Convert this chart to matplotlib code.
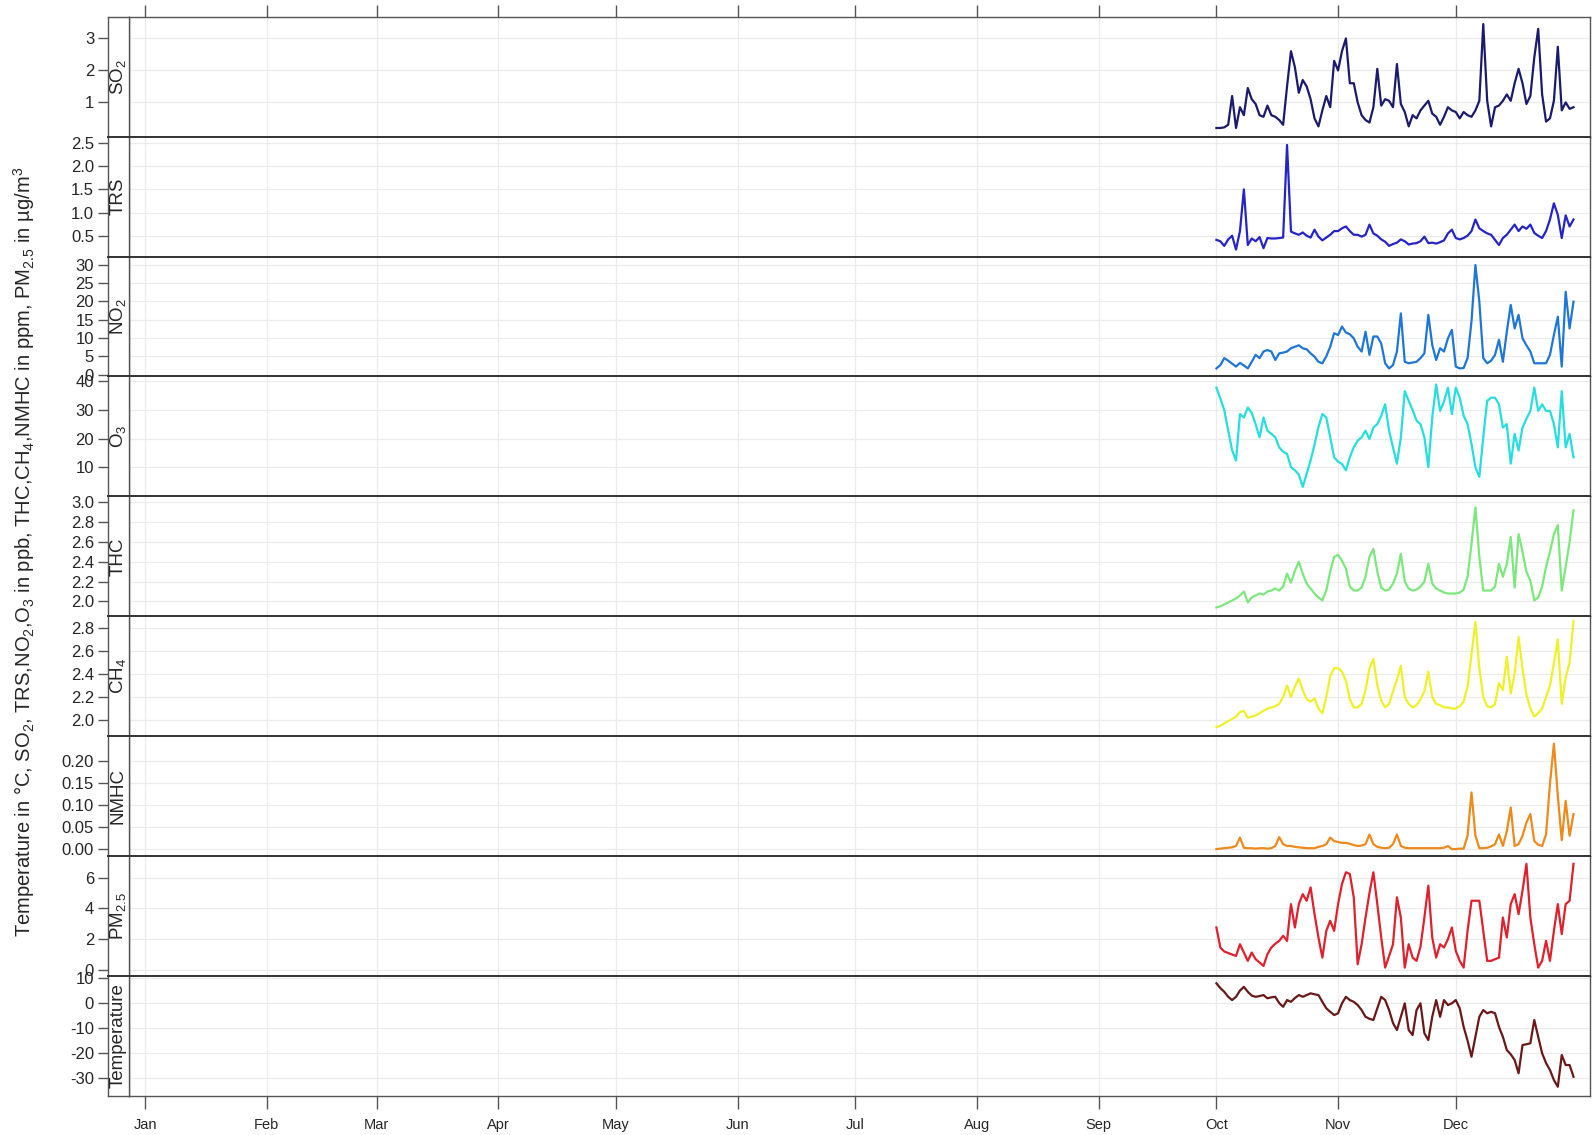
import numpy as np
import pandas as pd
import matplotlib
matplotlib.use('Agg')
import matplotlib.pyplot as plt
import matplotlib.dates as mdates
from matplotlib.ticker import FormatStrFormatter

plt.rcParams['font.family'] = ['Liberation Sans', 'DejaVu Sans']
plt.rcParams['mathtext.fontset'] = 'custom'
plt.rcParams['mathtext.rm'] = 'Liberation Sans'
plt.rcParams['mathtext.it'] = 'Liberation Sans:italic'
plt.rcParams['mathtext.bf'] = 'Liberation Sans:bold'

# daily means, 1 Oct - 31 Dec
start = '2014-10-01'

so2 = [0.2, 0.2, 0.22, 0.3, 1.2, 0.2, 0.85, 0.6, 1.45, 1.1,
       0.95, 0.6, 0.55, 0.9, 0.6, 0.55, 0.45, 0.3, 1.5, 2.6,
       2.1, 1.3, 1.7, 1.5, 1.1, 0.5, 0.25, 0.75, 1.2, 0.85,
       2.3, 2.0, 2.6, 3.0, 1.6, 1.6, 1.0, 0.6, 0.45, 0.37,
       0.85, 2.05, 0.9, 1.1, 1.05, 0.85, 2.2, 0.95, 0.7, 0.25,
       0.6, 0.5, 0.75, 0.9, 1.05, 0.65, 0.55, 0.3, 0.55, 0.85,
       0.75, 0.7, 0.5, 0.7, 0.6, 0.55, 0.75, 1.05, 3.45, 1.05,
       0.25, 0.85, 0.9, 1.05, 1.25, 1.05, 1.6, 2.05, 1.6, 0.95,
       1.2, 2.4, 3.3, 1.25, 0.4, 0.5, 1.05, 2.74, 0.75, 1.0,
       0.8, 0.85]

trs = [0.41, 0.38, 0.28, 0.42, 0.5, 0.2, 0.6, 1.5, 0.3, 0.44,
       0.38, 0.47, 0.23, 0.45, 0.44, 0.44, 0.45, 0.46, 2.46, 0.59,
       0.55, 0.52, 0.57, 0.5, 0.46, 0.63, 0.48, 0.4, 0.46, 0.52,
       0.6, 0.6, 0.66, 0.7, 0.6, 0.52, 0.52, 0.48, 0.52, 0.74,
       0.55, 0.5, 0.42, 0.37, 0.28, 0.32, 0.35, 0.42, 0.38, 0.31,
       0.33, 0.34, 0.38, 0.48, 0.34, 0.35, 0.33, 0.36, 0.4, 0.55,
       0.63, 0.45, 0.42, 0.45, 0.5, 0.6, 0.85, 0.66, 0.6, 0.55,
       0.52, 0.41, 0.3, 0.45, 0.52, 0.63, 0.74, 0.6, 0.7, 0.65,
       0.74, 0.56, 0.5, 0.45, 0.6, 0.85, 1.2, 0.95, 0.45, 0.94,
       0.7, 0.85]

no2 = [1.7, 2.6, 4.5, 3.8, 3.0, 2.2, 3.2, 2.5, 1.7, 3.5,
       5.4, 4.5, 6.3, 6.7, 6.3, 4.0, 5.8, 6.0, 6.3, 7.2,
       7.6, 8.0, 7.2, 6.9, 5.8, 4.9, 3.5, 3.1, 5.0, 7.6,
       11.3, 10.8, 13.1, 11.5, 11.0, 9.9, 7.6, 6.3, 11.7, 5.4,
       10.4, 10.4, 8.5, 3.1, 1.7, 2.6, 6.3, 16.7, 3.5, 3.1,
       3.3, 3.5, 4.5, 5.8, 16.3, 8.1, 4.0, 7.2, 6.3, 9.9,
       12.2, 2.2, 1.7, 1.8, 4.5, 14.5, 29.9, 19.9, 4.5, 3.1,
       3.8, 5.4, 9.5, 3.5, 11.7, 19.0, 12.6, 16.3, 9.9, 8.0,
       6.3, 3.1, 3.1, 3.1, 3.1, 5.4, 10.8, 15.8, 2.2, 22.6,
       12.6, 19.9]

o3 = [37.8, 34, 30, 22.8, 16, 12.4, 28.6, 27.4, 30.9, 29,
      25, 20.5, 27.4, 22.8, 21.7, 20.5, 17.0, 15.5, 14.7, 10.1,
      9.0, 7.5, 3.2, 7.8, 12.4, 18, 24.0, 28.6, 27.4, 20.5,
      13.5, 12, 11.2, 9.0, 13.5, 17, 19.3, 20.5, 22.8, 19.9,
      23.9, 25.1, 28, 32.0, 22.8, 17.0, 11.3, 20.5, 36.6, 33.2,
      30, 26.3, 25.1, 20.5, 10.1, 27.4, 38.9, 29.7, 33, 37.8,
      28.6, 37.8, 34.3, 28, 25.1, 18.2, 10, 6.7, 20.5, 33.2,
      34.3, 34.3, 32.0, 23.9, 25.1, 11.3, 21.7, 15.9, 23.9, 27,
      29.7, 37.8, 29.7, 32.0, 29.7, 29.7, 25.1, 17.0, 36.6, 17.0,
      21.7, 13.5]

thc = [1.94, 1.95, 1.97, 1.99, 2.01, 2.03, 2.06, 2.1, 1.99, 2.04,
       2.06, 2.08, 2.07, 2.1, 2.11, 2.13, 2.11, 2.15, 2.28, 2.19,
       2.31, 2.4, 2.28, 2.18, 2.13, 2.08, 2.04, 2.01, 2.11, 2.3,
       2.45, 2.47, 2.41, 2.33, 2.15, 2.11, 2.11, 2.14, 2.25, 2.45,
       2.53, 2.3, 2.14, 2.11, 2.12, 2.18, 2.28, 2.48, 2.2, 2.13,
       2.11, 2.12, 2.15, 2.2, 2.38, 2.18, 2.13, 2.11, 2.09, 2.08,
       2.08, 2.08, 2.09, 2.12, 2.25, 2.58, 2.95, 2.45, 2.11, 2.11,
       2.11, 2.15, 2.38, 2.25, 2.38, 2.65, 2.14, 2.68, 2.5, 2.3,
       2.21, 2.01, 2.04, 2.15, 2.35, 2.5, 2.68, 2.77, 2.11, 2.35,
       2.6, 2.92]

ch4 = [1.94, 1.95, 1.97, 1.99, 2.01, 2.03, 2.07, 2.08, 2.02, 2.03,
       2.04, 2.06, 2.08, 2.1, 2.11, 2.12, 2.14, 2.2, 2.3, 2.2,
       2.29, 2.36, 2.26, 2.18, 2.16, 2.19, 2.1, 2.06, 2.2, 2.38,
       2.45, 2.45, 2.42, 2.34, 2.18, 2.11, 2.11, 2.14, 2.26, 2.45,
       2.53, 2.3, 2.17, 2.11, 2.14, 2.25, 2.35, 2.47, 2.2, 2.14,
       2.11, 2.13, 2.18, 2.25, 2.42, 2.2, 2.14, 2.13, 2.11, 2.11,
       2.1, 2.1, 2.12, 2.16, 2.29, 2.57, 2.85, 2.45, 2.2, 2.12,
       2.11, 2.14, 2.32, 2.26, 2.55, 2.23, 2.4, 2.72, 2.45, 2.22,
       2.1, 2.03, 2.06, 2.1, 2.2, 2.3, 2.49, 2.7, 2.14, 2.37,
       2.5, 2.86]

nmhc = [0.0, 0.001, 0.002, 0.003, 0.004, 0.007, 0.026, 0.003, 0.002, 0.002,
        0.001, 0.002, 0.002, 0.001, 0.002, 0.007, 0.027, 0.011, 0.007, 0.007,
        0.005, 0.004, 0.003, 0.002, 0.002, 0.002, 0.005, 0.007, 0.011, 0.026,
        0.018, 0.016, 0.014, 0.014, 0.012, 0.009, 0.007, 0.008, 0.011, 0.033,
        0.011, 0.005, 0.003, 0.002, 0.003, 0.011, 0.033, 0.007, 0.003, 0.002,
        0.002, 0.002, 0.002, 0.002, 0.002, 0.002, 0.002, 0.002, 0.003, 0.007,
        0.0, 0.0, 0.001, 0.001, 0.03, 0.128, 0.03, 0.002, 0.002, 0.003,
        0.006, 0.011, 0.033, 0.007, 0.04, 0.094, 0.007, 0.011, 0.03, 0.06,
        0.079, 0.018, 0.01, 0.007, 0.033, 0.148, 0.238, 0.12, 0.02, 0.109,
        0.03, 0.079]

pm25 = [2.76, 1.46, 1.2, 1.1, 1.0, 0.91, 1.67, 1.13, 0.59, 1.13,
        0.7, 0.48, 0.26, 1.02, 1.46, 1.7, 1.89, 2.22, 1.89, 4.28,
        2.76, 4.28, 4.93, 4.5, 5.37, 3.63, 2.11, 0.8, 2.54, 3.2,
        2.54, 4.28, 5.59, 6.35, 6.24, 4.72, 0.37, 1.67, 3.41, 5.0,
        6.35, 4.28, 2.11, 0.15, 0.9, 1.67, 4.72, 3.41, 0.15, 1.67,
        0.8, 0.59, 1.5, 3.41, 5.48, 2.11, 0.8, 1.67, 1.46, 2.0,
        2.76, 1.24, 0.59, 0.15, 2.54, 4.5, 4.5, 4.5, 2.54, 0.59,
        0.59, 0.7, 0.8, 3.41, 2.11, 4.28, 4.93, 3.63, 5.15, 6.9,
        3.41, 1.67, 0.15, 0.59, 1.89, 0.59, 2.54, 4.28, 2.33, 4.28,
        4.5, 6.9]

temp = [7.9, 6.0, 4.5, 2.5, 1.2, 2.5, 5.0, 6.5, 4.5, 3.0,
        2.5, 2.8, 3.2, 1.9, 2.3, 2.5, 0.0, -1.5, 1.2, 0.5,
        2.0, 3.2, 2.5, 3.2, 3.9, 3.5, 3.2, 0.5, -2.1, -3.5,
        -4.8, -4.1, -0.1, 2.5, 1.2, 0.5, -0.8, -2.8, -5.5, -6.3,
        -6.8, -2.1, 2.5, 1.2, -2.8, -8.0, -10.8, -5.5, -0.1, -10.8,
        -12.8, -2.8, -0.1, -12.1, -14.8, -5.5, 1.2, -5.5, 1.2, -0.8,
        -0.1, 1.2, -2.1, -9.5, -15, -21.5, -13.5, -5.5, -2.8, -4.1,
        -3.5, -4.1, -9.5, -13.5, -18.8, -20.5, -22.8, -28.1, -16.8, -16.5,
        -16.1, -6.8, -13.5, -20.1, -24, -26.8, -30.8, -33.5, -20.8, -24.8,
        -24.8, -29.5]

names = ['SO$_2$', 'TRS', 'NO$_2$', 'O$_3$', 'THC', 'CH$_4$', 'NMHC', 'PM$_{2.5}$', 'Temperature']
series = [so2, trs, no2, o3, thc, ch4, nmhc, pm25, temp]
colours = ['#1a1a6e', '#2424c8', '#1f76d6', '#26dede', '#7ce87c', '#f0f028', '#ee8a1c', '#e0202c', '#6a1818']
yticks = [[1, 2, 3],
          [0.5, 1.0, 1.5, 2.0, 2.5],
          [0, 5, 10, 15, 20, 25, 30],
          [10, 20, 30, 40],
          [2.0, 2.2, 2.4, 2.6, 2.8, 3.0],
          [2.0, 2.2, 2.4, 2.6, 2.8],
          [0.0, 0.05, 0.10, 0.15, 0.20],
          [0, 2, 4, 6],
          [-30, -20, -10, 0, 10]]
ylims = [(-0.07, 3.68), (0.05, 2.64), (-0.5, 32.2), (-0.1, 41.7), (1.85, 3.06),
         (1.86, 2.9), (-0.016, 0.255), (-0.4, 7.4), (-37.2, 10.8)]
fmts = ['%d', '%.1f', '%d', '%d', '%.1f', '%.1f', '%.2f', '%d', '%d']

W, H = 1593, 1135
fig = plt.figure(figsize=(W / 100, H / 100), dpi=100)

x0, xs, x1 = 108 / W, 129 / W, 1590 / W
ytop, ybot = 16.7, 1096.0
h = (ybot - ytop) / 9

t0 = pd.Timestamp('2014-01-01')
xlim = (t0 - pd.Timedelta(days=4.1), t0 + pd.Timedelta(days=368.2))
months = pd.date_range('2014-01-01', periods=12, freq='MS')

txt = '#262626'
for i in range(9):
    b = 1 - (ytop + (i + 1) * h) / H
    ax = fig.add_axes([xs, b, x1 - xs, h / H])
    sx = fig.add_axes([x0, b, xs - x0, h / H])

    dates = pd.date_range(start, periods=len(series[i]), freq='D')
    ax.plot(dates, series[i], color=colours[i], lw=1.6, solid_joinstyle='round')

    ax.set_xlim(xlim)
    ax.set_xticks(months)
    ax.xaxis.set_major_formatter(mdates.DateFormatter('%b'))
    for a in (ax, sx):
        a.set_ylim(ylims[i])
        a.set_yticks(yticks[i])
    ax.grid(True, color='#ebebeb', lw=0.9)
    ax.set_axisbelow(True)
    ax.tick_params(axis='y', left=False, labelleft=False)
    ax.tick_params(axis='x', bottom=(i == 8), labelbottom=(i == 8), top=(i == 0),
                   labeltop=False, direction='out', length=9, width=1,
                   color='#555555', labelsize=10.5, labelcolor=txt, pad=7)

    sx.set_xticks([])
    sx.yaxis.set_major_formatter(FormatStrFormatter(fmts[i]))
    sx.tick_params(axis='y', direction='out', length=7, width=1, color='#555555',
                   labelsize=12, labelcolor=txt, pad=3)
    sx.text(0.5, 0.5, names[i], rotation=90, transform=sx.transAxes,
            ha='center', va='center', fontsize=13.5, color=txt)

    for a in (ax, sx):
        for s in a.spines.values():
            s.set_color('#555555')
            s.set_linewidth(1.0)
        if i > 0:
            a.spines['top'].set_color('#333333')
            a.spines['top'].set_linewidth(1.4)

fig.text(24 / W, 1 - 552 / H,
         'Temperature in \u00b0C, SO$_2$, TRS,NO$_2$,O$_3$ in ppb, THC,CH$_4$,NMHC in ppm, '
         'PM$_{2.5}$ in \u00b5g/m$^3$',
         rotation=90, ha='center', va='center', fontsize=14.5, color=txt)

fig.savefig('out.png', dpi=100)
